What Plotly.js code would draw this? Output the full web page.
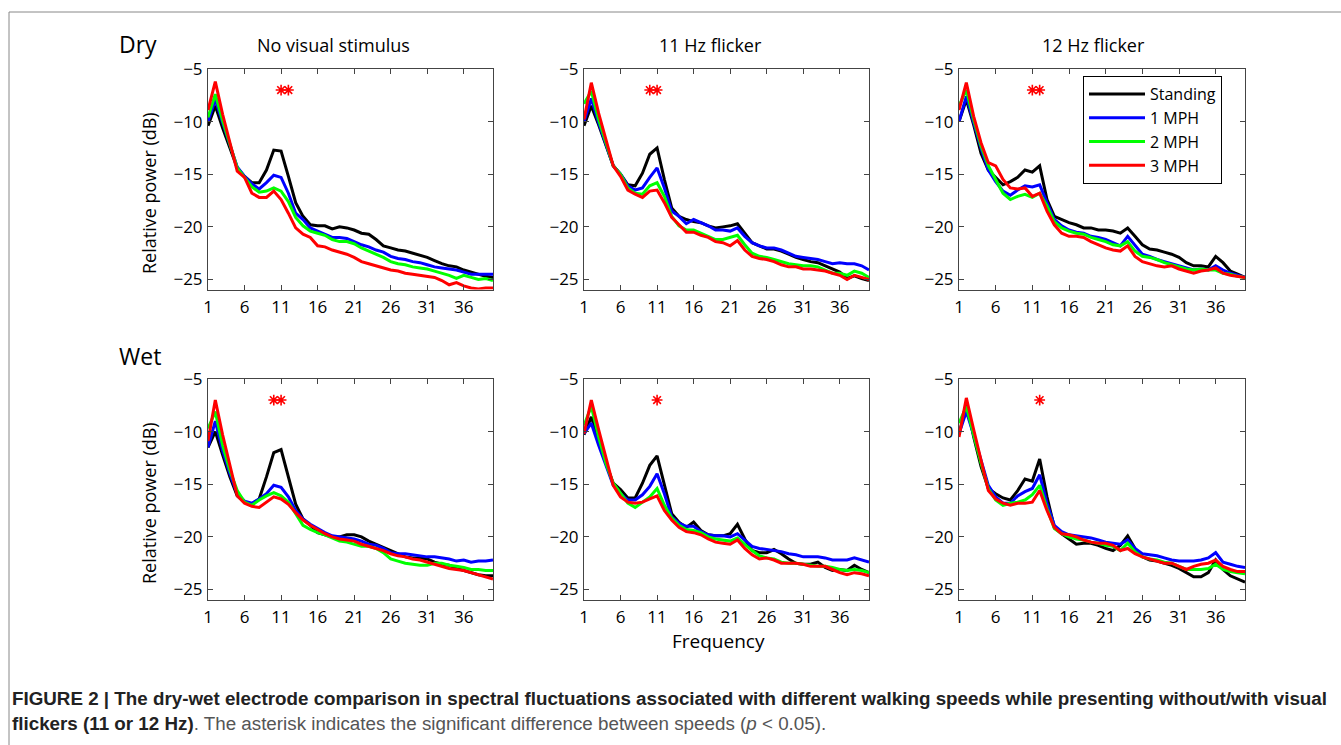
<!DOCTYPE html>
<html>
<head>
<meta charset="utf-8">
<script src="https://cdn.plot.ly/plotly-3.0.1.min.js"></script>
<style>html,body{margin:0;padding:0;background:#fff;}#chart{width:1341px;height:745px;}</style>
</head>
<body>
<div id="chart"></div>
<script>
// ---------- DATA ----------
const freq = [1,2,3,4,5,6,7,8,9,10,11,12,13,14,15,16,17,18,19,20,21,22,23,24,25,26,27,28,29,30,31,32,33,34,35,36,37,38,39,40];
const seriesNames = ["Standing", "1 MPH", "2 MPH", "3 MPH"];
const seriesColors = ["#000000", "#0000ff", "#00ff00", "#ff0000"];
const panelTitles = ["No visual stimulus", "11 Hz flicker", "12 Hz flicker", "", "", ""];
const rowLabels = ["Dry", "Wet"];
const xTicks = [1,6,11,16,21,26,31,36];
const yTicks = [-25,-20,-15,-10,-5];

// Dry, no visual stimulus
const dryNoneStanding = [-10.4,-8.5,-10.6,-12.5,-14.4,-15.2,-15.8,-15.8,-14.6,-12.7,-12.8,-15.2,-17.7,-19.0,-19.8,-19.9,-19.9,-20.2,-20.0,-20.1,-20.3,-20.6,-20.7,-21.2,-21.8,-22.0,-22.2,-22.3,-22.5,-22.7,-22.9,-23.2,-23.5,-23.7,-23.8,-24.1,-24.3,-24.5,-24.7,-24.8];
const dryNone1 = [-10.0,-7.9,-10.1,-12.3,-14.3,-15.2,-15.9,-16.4,-15.8,-15.1,-15.3,-16.8,-18.7,-19.3,-20.1,-20.4,-20.7,-21.0,-21.0,-21.1,-21.4,-21.7,-21.9,-22.2,-22.4,-22.8,-23.0,-23.1,-23.3,-23.4,-23.6,-23.8,-23.9,-24.0,-24.1,-24.3,-24.5,-24.5,-24.5,-24.5];
const dryNone2 = [-9.6,-7.4,-9.9,-12.2,-14.4,-15.3,-16.2,-16.7,-16.6,-16.3,-16.6,-17.6,-19.1,-19.9,-20.4,-20.6,-20.8,-21.2,-21.4,-21.4,-21.6,-22.0,-22.3,-22.6,-22.9,-23.3,-23.5,-23.6,-23.8,-23.9,-24.0,-24.2,-24.4,-24.6,-24.9,-24.6,-24.8,-25.0,-24.9,-25.1];
const dryNone3 = [-8.9,-6.2,-9.3,-11.9,-14.7,-15.3,-16.8,-17.2,-17.2,-16.6,-17.4,-18.7,-20.1,-20.7,-21.0,-21.8,-21.9,-22.2,-22.4,-22.6,-22.9,-23.3,-23.5,-23.7,-23.9,-24.1,-24.2,-24.4,-24.5,-24.6,-24.7,-24.8,-25.1,-25.5,-25.3,-25.6,-25.8,-25.9,-25.8,-25.8];

// Dry, 11 Hz flicker
const dry11Standing = [-10.4,-8.5,-10.3,-12.2,-14.2,-15.0,-16.0,-16.1,-14.9,-13.1,-12.5,-15.5,-18.2,-19.0,-19.3,-19.5,-19.6,-19.9,-20.1,-20.0,-19.9,-19.7,-20.6,-21.5,-21.8,-22.1,-22.1,-22.3,-22.6,-22.9,-23.1,-23.3,-23.4,-23.7,-24.0,-24.3,-24.9,-24.65,-24.9,-25.1];
const dry11_1 = [-10.0,-7.8,-10.1,-12.2,-14.2,-15.0,-16.1,-16.5,-16.3,-15.3,-14.4,-16.3,-18.5,-19.0,-19.7,-19.3,-19.6,-19.9,-20.3,-20.3,-20.4,-20.1,-20.9,-21.5,-21.8,-22.0,-22.0,-22.2,-22.5,-22.8,-22.9,-23.0,-23.1,-23.3,-23.5,-23.4,-23.5,-23.5,-23.7,-24.1];
const dry11_2 = [-8.3,-7.1,-9.8,-11.9,-14.2,-15.0,-16.3,-16.8,-16.9,-16.1,-15.8,-17.1,-19.0,-19.9,-20.3,-20.3,-20.6,-20.9,-21.2,-21.2,-21.0,-20.8,-21.7,-22.5,-22.8,-22.9,-23.1,-23.3,-23.5,-23.6,-23.7,-23.7,-23.8,-24.1,-24.4,-24.4,-24.6,-24.2,-24.4,-24.8];
const dry11_3 = [-9.8,-6.3,-9.2,-11.7,-14.2,-15.2,-16.5,-16.9,-17.2,-16.6,-16.5,-17.7,-19.1,-19.8,-20.5,-20.5,-20.8,-21.0,-21.4,-21.5,-21.8,-21.3,-22.2,-22.8,-23.0,-23.1,-23.3,-23.6,-23.8,-23.8,-24.0,-24.0,-24.1,-24.2,-24.4,-24.6,-25.0,-24.6,-24.8,-25.0];

// Dry, 12 Hz flicker
const dry12Standing = [-10.0,-7.9,-10.3,-13.0,-14.6,-15.3,-16.0,-15.7,-15.3,-14.6,-14.8,-14.2,-17.4,-19.0,-19.3,-19.6,-19.8,-20.1,-20.1,-20.3,-20.3,-20.4,-20.6,-20.1,-20.9,-21.7,-22.1,-22.2,-22.4,-22.6,-22.9,-23.4,-23.7,-23.7,-23.8,-22.8,-23.4,-24.2,-24.5,-24.8];
const dry12_1 = [-10.0,-7.6,-10.1,-12.5,-14.6,-15.7,-16.6,-17.0,-16.5,-16.1,-16.2,-16.0,-17.7,-19.3,-19.9,-20.3,-20.5,-20.6,-20.9,-21.0,-21.2,-21.5,-21.8,-20.9,-21.8,-22.6,-22.8,-23.1,-23.3,-23.5,-23.7,-23.9,-24.1,-24.0,-24.1,-23.7,-24.1,-24.4,-24.6,-24.8];
const dry12_2 = [-8.5,-7.0,-9.8,-12.3,-14.2,-15.5,-16.8,-17.4,-17.1,-16.9,-17.2,-16.8,-18.0,-19.5,-20.1,-20.4,-20.6,-20.7,-21.0,-21.2,-21.4,-21.7,-21.8,-21.4,-22.3,-22.8,-22.9,-23.1,-23.4,-23.6,-23.8,-24.0,-24.1,-24.0,-24.1,-24.1,-24.4,-24.5,-24.7,-24.8];
const dry12_3 = [-8.9,-6.3,-9.5,-12.0,-13.9,-14.2,-15.5,-16.3,-16.4,-16.3,-17.1,-16.8,-18.5,-19.8,-20.6,-20.9,-20.9,-21.0,-21.4,-21.7,-22.0,-22.2,-22.3,-21.8,-22.8,-23.3,-23.5,-23.7,-23.8,-23.7,-24.0,-24.2,-24.4,-24.2,-24.1,-23.9,-24.4,-24.6,-24.7,-24.8];

// Wet, no visual stimulus
const wetNoneStanding = [-11.5,-10.0,-12.2,-14.3,-16.1,-16.7,-16.9,-16.4,-14.3,-12.0,-11.7,-14.3,-16.9,-18.3,-18.9,-19.6,-19.8,-20.0,-20.0,-19.8,-19.8,-20.0,-20.4,-20.7,-21.0,-21.3,-21.6,-21.9,-22.0,-22.0,-22.1,-22.4,-22.6,-22.7,-23.0,-23.2,-23.4,-23.6,-23.7,-23.7];
const wetNone1 = [-11.5,-9.0,-11.8,-14.0,-15.9,-16.6,-16.8,-16.4,-15.9,-15.1,-15.3,-16.2,-17.5,-18.3,-18.8,-19.2,-19.6,-19.9,-20.0,-20.1,-20.2,-20.4,-20.7,-20.8,-21.1,-21.5,-21.6,-21.6,-21.7,-21.8,-21.9,-21.9,-22.0,-22.1,-22.3,-22.2,-22.4,-22.3,-22.3,-22.2];
const wetNone2 = [-9.7,-8.1,-11.3,-13.7,-15.6,-16.7,-17.0,-16.5,-16.1,-15.8,-16.1,-16.7,-17.8,-18.9,-19.3,-19.6,-19.8,-20.1,-20.4,-20.5,-20.7,-20.9,-20.9,-21.1,-21.5,-22.1,-22.3,-22.5,-22.6,-22.7,-22.7,-22.5,-22.5,-22.7,-22.8,-22.9,-23.1,-23.1,-23.2,-23.2];
const wetNone3 = [-10.9,-7.0,-10.3,-13.3,-16.1,-16.8,-17.1,-17.2,-16.7,-16.2,-16.4,-16.9,-17.7,-18.4,-18.9,-19.3,-19.7,-20.0,-20.2,-20.3,-20.4,-20.7,-20.9,-21.1,-21.3,-21.6,-21.8,-21.9,-22.1,-22.2,-22.4,-22.6,-22.8,-23.0,-23.1,-23.2,-23.4,-23.6,-23.8,-24.0];

// Wet, 11 Hz flicker
const wet11Standing = [-10.3,-8.6,-10.8,-13.0,-14.9,-15.5,-16.3,-16.3,-14.9,-13.2,-12.3,-15.1,-17.8,-18.6,-19.1,-18.6,-19.4,-19.8,-19.9,-19.9,-19.7,-18.8,-20.2,-21.3,-21.5,-21.5,-21.2,-21.6,-22.1,-22.5,-22.6,-22.6,-22.4,-22.9,-23.2,-23.1,-23.2,-22.7,-23.1,-23.4];
const wet11_1 = [-10.2,-9.2,-11.3,-13.3,-15.1,-15.9,-16.5,-16.5,-16.0,-15.2,-14.0,-15.9,-18.1,-18.7,-19.0,-19.0,-19.5,-19.8,-19.9,-19.9,-20.0,-19.7,-20.3,-20.9,-21.1,-21.2,-21.3,-21.4,-21.6,-21.7,-21.9,-21.9,-21.9,-22.0,-22.2,-22.2,-22.2,-22.0,-22.2,-22.4];
const wet11_2 = [-9.4,-7.6,-10.5,-13.0,-14.9,-15.9,-16.8,-17.2,-16.7,-16.2,-15.4,-17.0,-18.2,-18.9,-19.3,-19.4,-19.6,-20.0,-20.2,-20.3,-20.4,-20.1,-20.7,-21.3,-21.8,-22.0,-22.1,-22.4,-22.5,-22.5,-22.6,-22.7,-22.8,-22.8,-22.9,-23.1,-23.2,-23.1,-23.2,-23.4];
const wet11_3 = [-10.2,-7.0,-9.8,-12.5,-15.1,-16.2,-16.7,-16.8,-16.7,-16.4,-16.1,-17.5,-18.4,-19.1,-19.5,-19.6,-19.8,-20.2,-20.5,-20.6,-20.7,-20.3,-21.1,-21.7,-22.1,-22.0,-22.2,-22.5,-22.5,-22.5,-22.6,-22.8,-22.8,-22.8,-23.1,-23.4,-23.6,-23.4,-23.5,-23.7];

// Wet, 12 Hz flicker
const wet12Standing = [-10.3,-7.3,-10.5,-13.3,-15.4,-15.9,-16.3,-16.5,-15.6,-14.5,-14.7,-12.6,-16.2,-19.1,-19.7,-20.2,-20.7,-20.6,-20.6,-20.8,-21.1,-21.3,-20.8,-19.9,-21.1,-21.9,-22.2,-22.3,-22.5,-22.7,-23.0,-23.4,-23.8,-23.8,-23.4,-22.2,-23.1,-23.7,-24.0,-24.3];
const wet12_1 = [-10.2,-8.1,-10.3,-12.7,-15.1,-16.2,-16.8,-16.8,-16.1,-15.7,-15.4,-14.1,-16.8,-18.9,-19.5,-19.8,-19.9,-20.0,-20.1,-20.3,-20.5,-20.6,-20.7,-20.3,-21.1,-21.6,-21.7,-21.8,-22.0,-22.2,-22.3,-22.3,-22.3,-22.2,-22.0,-21.5,-22.4,-22.6,-22.8,-22.9];
const wet12_2 = [-9.2,-7.6,-10.3,-13.0,-15.4,-16.5,-17.0,-16.8,-16.7,-16.5,-16.0,-15.1,-17.3,-19.2,-19.7,-20.0,-20.2,-20.3,-20.5,-20.6,-20.8,-20.9,-21.3,-20.6,-21.4,-21.9,-22.1,-22.2,-22.4,-22.5,-22.8,-23.1,-23.1,-23.1,-23.0,-22.6,-23.1,-23.3,-23.4,-23.5];
const wet12_3 = [-10.5,-6.8,-9.8,-12.7,-15.6,-16.4,-16.8,-17.0,-16.8,-16.8,-16.7,-15.6,-17.5,-19.1,-19.7,-19.8,-20.0,-20.3,-20.5,-20.6,-20.6,-20.8,-21.3,-21.1,-21.6,-21.9,-22.1,-22.3,-22.5,-22.5,-22.8,-23.1,-22.8,-22.6,-22.5,-22.2,-22.8,-23.1,-23.3,-23.3];

// Significance asterisks (frequency positions, dB level)
const starFreqs = [[11,12],[10,11],[11,12],[10,11],[11],[12]];
const starLevel = -7;

// ---------- BUILD ----------
const panels = [
  [dryNoneStanding, dryNone1, dryNone2, dryNone3],
  [dry11Standing, dry11_1, dry11_2, dry11_3],
  [dry12Standing, dry12_1, dry12_2, dry12_3],
  [wetNoneStanding, wetNone1, wetNone2, wetNone3],
  [wet11Standing, wet11_1, wet11_2, wet11_3],
  [wet12Standing, wet12_1, wet12_2, wet12_3]
];

const W = 1341, H = 745;
const px = v => v / W;          // pixel -> paper x
const py = v => 1 - v / H;      // pixel -> paper y
const colsPx = [[208,493],[584,869],[959,1245]];
const rowsPx = [[69,289.5],[379,599.5]];
const FONT = "'Open Sans', 'Noto Sans', sans-serif";

const traces = [];
panels.forEach((series, p) => {
  const ax = p === 0 ? "" : String(p + 1);
  series.forEach((vals, s) => {
    traces.push({
      type: "scatter", mode: "lines",
      x: freq, y: vals,
      xaxis: "x" + ax, yaxis: "y" + ax,
      name: seriesNames[s], legendgroup: seriesNames[s],
      showlegend: p === 2,
      line: { color: seriesColors[s], width: 3 },
      hoverinfo: "skip"
    });
  });
  traces.push({
    type: "scatter", mode: "markers",
    x: starFreqs[p], y: starFreqs[p].map(() => starLevel),
    xaxis: "x" + ax, yaxis: "y" + ax,
    showlegend: false, hoverinfo: "skip",
    marker: { symbol: "asterisk-open", size: 9, color: "#ff0000", line: { color: "#ff0000", width: 1.6 } }
  });
});

const layout = {
  width: W, height: H,
  margin: { l: 0, r: 0, t: 0, b: 0 },
  paper_bgcolor: "#ffffff", plot_bgcolor: "#ffffff",
  font: { family: FONT, size: 17, color: "#000" },
  showlegend: true,
  legend: {
    x: px(1083), y: py(76), xanchor: "left", yanchor: "top",
    bordercolor: "#000", borderwidth: 1, bgcolor: "#ffffff",
    font: { family: FONT, size: 16, color: "#000" },
    tracegroupgap: 0, itemwidth: 56
  },
  annotations: [],
  shapes: [
    { type: "line", xref: "paper", yref: "paper", x0: px(9), x1: 1, y0: py(12), y1: py(12), line: { color: "#888", width: 1 } },
    { type: "line", xref: "paper", yref: "paper", x0: px(9), x1: px(9), y0: py(12), y1: 0, line: { color: "#888", width: 1 } }
  ]
};

for (let p = 0; p < 6; p++) {
  const ax = p === 0 ? "" : String(p + 1);
  const c = colsPx[p % 3], r = rowsPx[Math.floor(p / 3)];
  layout["xaxis" + ax] = {
    domain: [px(c[0]), px(c[1])], range: [1, 40], anchor: "y" + ax,
    tickmode: "array", tickvals: xTicks, ticks: "inside", ticklen: 5, tickcolor: "#444",
    showline: true, linecolor: "#444", linewidth: 1, mirror: "ticks",
    showgrid: false, zeroline: false, ticklabelstandoff: 2,
    tickfont: { family: FONT, size: 17, color: "#000" }
  };
  layout["yaxis" + ax] = {
    domain: [py(r[1]), py(r[0])], range: [-25.95, -5], anchor: "x" + ax,
    tickmode: "array", tickvals: yTicks, ticks: "inside", ticklen: 5, tickcolor: "#444",
    showline: true, linecolor: "#444", linewidth: 1, mirror: "ticks",
    showgrid: false, zeroline: false, ticklabelstandoff: 1,
    tickfont: { family: FONT, size: 17, color: "#000" }
  };
}

// Column titles
const titleX = [333, 710, 1093];
for (let i = 0; i < 3; i++) {
  layout.annotations.push({ text: panelTitles[i], xref: "paper", yref: "paper", x: px(titleX[i]), y: py(45),
    xanchor: "center", yanchor: "middle", showarrow: false, font: { family: FONT, size: 18, color: "#000" } });
}
// Row labels
layout.annotations.push({ text: rowLabels[0], xref: "paper", yref: "paper", x: px(117), y: py(44), xanchor: "left", yanchor: "middle", showarrow: false, font: { family: FONT, size: 23, color: "#000" } });
layout.annotations.push({ text: rowLabels[1], xref: "paper", yref: "paper", x: px(117), y: py(356), xanchor: "left", yanchor: "middle", showarrow: false, font: { family: FONT, size: 23, color: "#000" } });
// Y titles
[193, 503].forEach(yc => layout.annotations.push({ text: "Relative power (dB)", xref: "paper", yref: "paper", x: px(149), y: py(yc),
  xanchor: "center", yanchor: "middle", textangle: -90, showarrow: false, font: { family: FONT, size: 18, color: "#000" } }));
// X title
layout.annotations.push({ text: "Frequency", xref: "paper", yref: "paper", x: px(718), y: py(641), xanchor: "center", yanchor: "middle", showarrow: false, font: { family: FONT, size: 19, color: "#000" } });
// Caption
const CAP = "'Liberation Sans', Arial, sans-serif";
layout.annotations.push({ text: "<b>FIGURE 2 | The dry-wet electrode comparison in spectral fluctuations associated with different walking speeds while presenting without/with visual</b>",
  xref: "paper", yref: "paper", x: px(10), y: py(698), xanchor: "left", yanchor: "middle", showarrow: false, font: { family: CAP, size: 18.8, color: "#222" } });
layout.annotations.push({ text: "<b>flickers (11 or 12 Hz)</b><span style=\"color:#555\">. The asterisk indicates the significant difference between speeds (<i>p</i> &lt; 0.05).</span>",
  xref: "paper", yref: "paper", x: px(10), y: py(723), xanchor: "left", yanchor: "middle", showarrow: false, font: { family: CAP, size: 18.8, color: "#222" } });

Plotly.newPlot("chart", traces, layout, { staticPlot: true, displayModeBar: false });
</script>
</body>
</html>
